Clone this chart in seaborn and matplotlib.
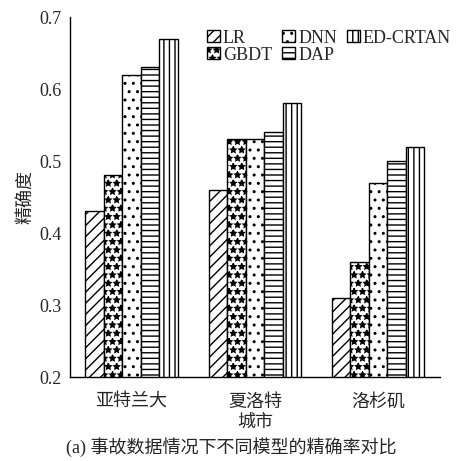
import numpy as np
import pandas as pd
import matplotlib
matplotlib.use('Agg')
import matplotlib.pyplot as plt
import seaborn as sns

# data
cities = ['亚特兰大', '夏洛特', '洛杉矶']
models = ['LR', 'GBDT', 'DNN', 'DAP', 'ED-CRTAN']
lr = [0.43, 0.46, 0.31]
gbdt = [0.48, 0.53, 0.36]
dnn = [0.62, 0.53, 0.47]
dap = [0.63, 0.54, 0.50]
ed_crtan = [0.67, 0.58, 0.52]

sns.set_style('white')
fam = ['Liberation Serif', 'Noto Sans CJK SC']
plt.rcParams['font.family'] = fam
plt.rcParams['hatch.linewidth'] = 1.0

rows = []
for m, vals in zip(models, [lr, gbdt, dnn, dap, ed_crtan]):
    for c, v in zip(cities, vals):
        rows.append({'城市': c, '模型': m, '精确度': v})
df = pd.DataFrame(rows)

fig = plt.figure(figsize=(4.62, 4.61), dpi=100)
ax = fig.add_axes([0.1515, 0.182, 0.8005, 0.781])

sns.barplot(data=df, x='城市', y='精确度', hue='模型', order=cities,
            hue_order=models, palette=['white'] * 5,
            edgecolor='black', linewidth=1.0, width=0.75, ax=ax)

hatches = ['///', '**', '..', '---', '|||']
for cont, h in zip(ax.containers, hatches):
    for p in cont:
        p.set_hatch(h)
        p.set_facecolor('white')
        p.set_edgecolor('black')

ax.set_ylim(0.2, 0.7)
ax.set_xlim(-0.5, 2.5)
yt = [0.2, 0.3, 0.4, 0.5, 0.6, 0.7]
ax.set_yticks(yt)
ax.set_yticklabels([f'{v:.1f}' for v in yt], fontfamily=fam, fontsize=13)
ax.set_xticks(range(len(cities)))
ax.set_xticklabels(cities, fontfamily=fam, fontsize=13)
ax.tick_params(axis='y', direction='in', length=4, width=1, pad=6)
ax.tick_params(axis='x', length=0, pad=12)
for s in ['top', 'right']:
    ax.spines[s].set_visible(False)
for s in ['left', 'bottom']:
    ax.spines[s].set_color('black')
    ax.spines[s].set_linewidth(1.0)

ax.set_xlabel('城市', fontsize=13, labelpad=3, fontfamily=fam)
ax.set_ylabel('精确度', fontsize=13, labelpad=4, fontfamily=fam)

handles, labels = ax.get_legend_handles_labels()
for hd, h in zip(handles, hatches):
    hd.set_hatch(h)
    hd.set_facecolor('white')
    hd.set_edgecolor('black')
ax.legend(handles, labels, ncol=3, loc='upper left', bbox_to_anchor=(0.335, 1.0),
          frameon=False, prop={'family': fam, 'size': 13},
          handlelength=0.75, handleheight=0.65,
          handletextpad=0.15, columnspacing=0.55, labelspacing=0.0,
          borderpad=0.2)

fig.text(0.5, 0.03, '(a) 事故数据情况下不同模型的精确率对比', ha='center',
         va='center', fontsize=13, fontfamily=fam)

fig.savefig('out.png', dpi=100, facecolor='white')
